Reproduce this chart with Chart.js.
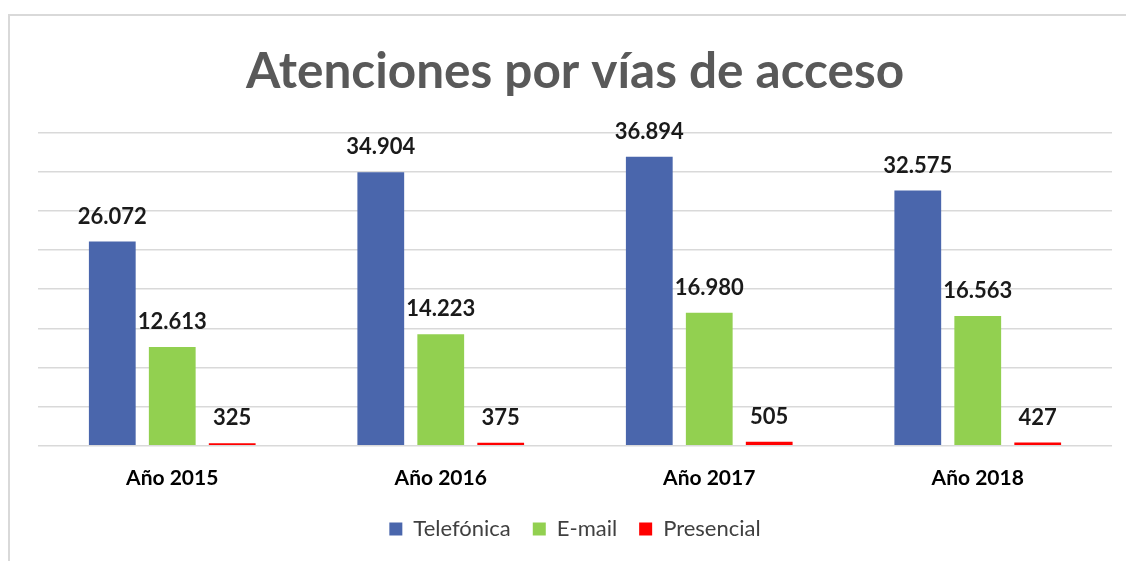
<!DOCTYPE html>
<html>
<head>
<meta charset="utf-8">
<script src="https://cdn.jsdelivr.net/npm/chart.js@4"></script>
<style>
  html, body { margin: 0; padding: 0; background: #fff; overflow: hidden; }
  #wrap { position: relative; width: 1126px; height: 561px; }
  #frame {
    position: absolute; left: 8px; top: 14px; width: 1200px; height: 600px;
    border: 2px solid #d9d9d9; box-sizing: border-box;
  }
  canvas { position: absolute; left: 0; top: 0; }
</style>
</head>
<body>
<div id="wrap">
  <div id="frame"></div>
  <canvas id="chart" width="1126" height="561"></canvas>
</div>
<script>
// Chart data
const years = ["Año 2015", "Año 2016", "Año 2017", "Año 2018"];
const telefonica = [26072, 34904, 36894, 32575];
const email = [12613, 14223, 16980, 16563];
const presencial = [325, 375, 505, 427];

const FONT = "Lato";

// "26072" -> "26.072"
function formatNumber(v) {
  return String(v).replace(/\B(?=(\d{3})+(?!\d))/g, ".");
}

// Draws the bold value labels above each bar
const valueLabels = {
  id: "valueLabels",
  afterDatasetsDraw: function(chart) {
    const ctx = chart.ctx;
    ctx.save();
    ctx.font = "bold 22px " + FONT;
    ctx.fillStyle = "#1a1a1a";
    ctx.textAlign = "center";
    ctx.textBaseline = "middle";
    chart.data.datasets.forEach(function(ds, i) {
      const meta = chart.getDatasetMeta(i);
      meta.data.forEach(function(bar, j) {
        ctx.fillText(formatNumber(ds.data[j]), bar.x, bar.y - 25);
      });
    });
    ctx.restore();
  }
};

new Chart(document.getElementById("chart"), {
  type: "bar",
  data: {
    labels: years,
    datasets: [
      { label: "Telefónica", data: telefonica, backgroundColor: "#4a66ac" },
      { label: "E-mail", data: email, backgroundColor: "#92d050" },
      { label: "Presencial", data: presencial, backgroundColor: "#ff0000" }
    ]
  },
  options: {
    responsive: false,
    animation: false,
    categoryPercentage: 0.67,
    barPercentage: 0.78,
    layout: { padding: { left: 38, right: 14, top: 0, bottom: 11 } },
    plugins: {
      title: {
        display: true,
        text: "Atenciones por vías de acceso",
        color: "#595959",
        font: { family: FONT, size: 49.5, weight: "bold" },
        padding: { top: 42, bottom: 31 }
      },
      legend: {
        position: "bottom",
        labels: {
          color: "#404040",
          font: { family: FONT, size: 22 },
          boxWidth: 13,
          boxHeight: 13,
          padding: 22
        }
      },
      tooltip: { enabled: false }
    },
    scales: {
      x: {
        grid: { display: false },
        border: { display: false },
        ticks: { color: "#000", font: { family: FONT, size: 21, weight: "bold" }, padding: 12 },
        afterFit: function(axis) { axis.height -= 7; }
      },
      y: {
        min: 0,
        max: 40000,
        ticks: { display: false, stepSize: 5000 },
        grid: { color: "#d9d9d9", lineWidth: 1.5, drawTicks: false },
        border: { display: false }
      }
    }
  },
  plugins: [valueLabels]
});
</script>
</body>
</html>
